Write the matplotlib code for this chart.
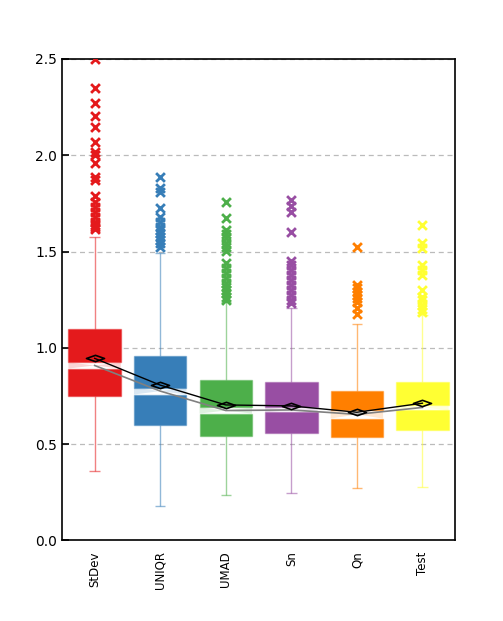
import numpy as np
import matplotlib
matplotlib.use("Agg")
import matplotlib.pyplot as plt
from matplotlib.path import Path

# estimator names and box statistics
names = ["StDev", "UNIQR", "UMAD", "Sn", "Qn", "Test"]
colors = ["#e41a1c", "#377eb8", "#4daf4a", "#984ea3", "#ff7f00", "#ffff33"]

q1 = [0.747, 0.601, 0.544, 0.555, 0.535, 0.572]
q3 = [1.095, 0.958, 0.830, 0.820, 0.774, 0.820]
medians = [0.908, 0.775, 0.674, 0.677, 0.654, 0.690]
notch = [0.016, 0.018, 0.016, 0.013, 0.022, 0.015]
means = [0.945, 0.806, 0.703, 0.698, 0.665, 0.712]
whisk_lo = [0.362, 0.180, 0.237, 0.248, 0.269, 0.279]
whisk_hi = [1.577, 1.490, 1.240, 1.204, 1.121, 1.170]

outliers = [
    [2.498, 2.351, 2.270, 2.204, 2.145, 2.067, 2.017, 2.003, 1.958, 1.888,
     1.871, 1.788, 1.758, 1.732, 1.706, 1.680, 1.654, 1.640, 1.628, 1.615],
    [1.888, 1.828, 1.810, 1.724, 1.677, 1.654, 1.628, 1.611, 1.594, 1.576,
     1.559, 1.542, 1.521],
    [1.758, 1.672, 1.611, 1.590, 1.568, 1.542, 1.521, 1.504, 1.438, 1.412,
     1.386, 1.360, 1.334, 1.317, 1.299, 1.282, 1.265, 1.250],
    [1.767, 1.736, 1.706, 1.599, 1.452, 1.429, 1.403, 1.377, 1.351, 1.325,
     1.299, 1.273, 1.247, 1.230],
    [1.521, 1.325, 1.308, 1.291, 1.273, 1.256, 1.239, 1.204, 1.175],
    [1.637, 1.542, 1.516, 1.429, 1.403, 1.377, 1.299, 1.265, 1.247, 1.221,
     1.199, 1.185],
]

yticks = [0.0, 0.5, 1.0, 1.5, 2.0, 2.5]

# flat diamond marker for the means
diamond = Path([(-1, 0), (0, 0.35), (1, 0), (0, -0.35), (-1, 0)],
               [Path.MOVETO, Path.LINETO, Path.LINETO, Path.LINETO, Path.CLOSEPOLY])

fig = plt.figure(figsize=(5.03, 6.21), dpi=100)
ax = fig.add_axes([0.123, 0.130, 0.782, 0.775])

pos = np.arange(1, len(names) + 1)
w = 0.8

for i, p in enumerate(pos):
    c = colors[i]
    # whiskers and caps
    ax.vlines(p, whisk_lo[i], q1[i], color=c, alpha=0.55, lw=1, zorder=2)
    ax.vlines(p, q3[i], whisk_hi[i], color=c, alpha=0.55, lw=1, zorder=2)
    ax.hlines([whisk_lo[i], whisk_hi[i]], p - 0.08, p + 0.08, color=c, alpha=0.55, lw=1, zorder=2)
    # box split at the notch
    top_lo = medians[i] + notch[i]
    bot_hi = medians[i] - notch[i]
    ax.bar(p, q3[i] - top_lo, bottom=top_lo, width=w, color=c,
           edgecolor=matplotlib.colors.to_rgba(c, 0.45), lw=1, zorder=3)
    ax.bar(p, bot_hi - q1[i], bottom=q1[i], width=w, color=c,
           edgecolor=matplotlib.colors.to_rgba(c, 0.45), lw=1, zorder=3)
    # faint notch wedge
    ax.fill([p - w / 2, p, p + w / 2, p + w / 2, p, p - w / 2],
            [top_lo, medians[i], top_lo, bot_hi, medians[i], bot_hi],
            color=c, alpha=0.18, lw=0, zorder=3)
    # outliers
    ax.scatter(np.full(len(outliers[i]), p), outliers[i], marker="x", s=40,
               color=c, linewidths=2, zorder=4)

ax.plot(pos, medians, color="gray", lw=1.2, zorder=5)
ax.plot(pos, means, color="black", lw=1, marker=diamond, markersize=13,
        markerfacecolor="none", markeredgecolor="black", markeredgewidth=1.2, zorder=6)

ax.set_xlim(0.5, 6.5)
ax.set_ylim(0, 2.5)
ax.set_yticks(yticks)
ax.set_yticklabels([f"{t:.1f}" for t in yticks], fontsize=10)
ax.set_xticks(pos)
ax.set_xticklabels(names, rotation=90, fontsize=8.5)
ax.tick_params(axis="y", direction="in", length=5, width=1.2)
ax.tick_params(axis="x", length=0, pad=8)
ax.yaxis.grid(True, linestyle=(0, (4, 3)), color="#bbbbbb", lw=0.9)
ax.set_axisbelow(True)
for s in ax.spines.values():
    s.set_linewidth(1.2)

fig.savefig("out.png", dpi=100)
